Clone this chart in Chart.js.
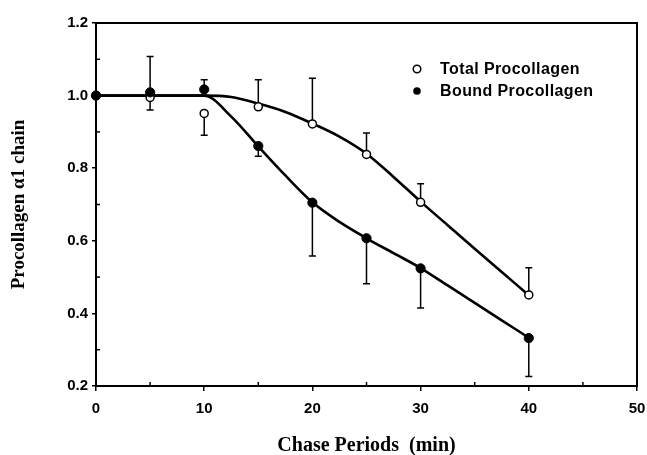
<!DOCTYPE html>
<html>
<head>
<meta charset="utf-8">
<script src="https://cdn.jsdelivr.net/npm/chart.js@4.4.0/dist/chart.umd.min.js"></script>
<style>
html,body{margin:0;padding:0;background:#fff;}
#wrap{width:647px;height:455px;position:relative;}
</style>
</head>
<body>
<div id="wrap"><canvas id="c" width="647" height="455"></canvas></div>
<script>
// ---- data ----
const xTicks = [0, 10, 20, 30, 40, 50];
const yTicks = [0.2, 0.4, 0.6, 0.8, 1.0, 1.2];

const totalX = [0, 5, 10, 15, 20, 25, 30, 40];
const totalY = [1.0, 0.995, 0.951, 0.969, 0.922, 0.838, 0.706, 0.451];
const totalErrHi = [null, 1.108, null, 1.044, 1.048, 0.897, 0.757, 0.526];
const totalErrLo = [null, 0.960, 0.891, null, null, null, null, null];

const boundX = [0, 5, 10, 15, 20, 25, 30, 40];
const boundY = [1.0, 1.009, 1.017, 0.861, 0.705, 0.607, 0.524, 0.332];
const boundErrHi = [null, null, 1.044, null, null, null, null, null];
const boundErrLo = [null, null, null, 0.833, 0.558, 0.482, 0.415, 0.226];

// fitted curves every 2.5 min
const fitX = [0, 2.5, 5, 7.5, 10, 12.5, 15, 17.5, 20, 22.5, 25, 27.5, 30, 32.5, 35, 37.5, 40];
const totalFit = [1.0, 1.0, 1.0, 1.0, 1.0, 0.996, 0.978, 0.955, 0.923, 0.887, 0.84, 0.776, 0.708, 0.643, 0.578, 0.514, 0.45];
const boundFit = [1.0, 1.0, 1.0, 1.0, 1.0, 0.942, 0.86, 0.78, 0.706, 0.652, 0.607, 0.566, 0.525, 0.477, 0.429, 0.381, 0.333];

const seriesNames = ['Total Procollagen', 'Bound Procollagen'];

const pts = (xs, ys) => xs.map((x, i) => ({x: x, y: ys[i]}));

const errorBars = {
  id: 'errorBars',
  beforeDatasetsDraw(chart) {
    const {ctx, scales: {x, y}} = chart;
    const sets = [[totalX, totalY, totalErrHi, totalErrLo], [boundX, boundY, boundErrHi, boundErrLo]];
    ctx.save();
    ctx.strokeStyle = '#000';
    ctx.lineWidth = 1.5;
    const cap = 3.5;
    sets.forEach(([xs, ys, hi, lo]) => {
      xs.forEach((xv, i) => {
        const px = x.getPixelForValue(xv);
        const py = y.getPixelForValue(ys[i]);
        [hi[i], lo[i]].forEach(e => {
          if (e === null) return;
          const pe = y.getPixelForValue(e);
          ctx.beginPath();
          ctx.moveTo(px, py); ctx.lineTo(px, pe);
          ctx.moveTo(px - cap, pe); ctx.lineTo(px + cap, pe);
          ctx.stroke();
        });
      });
    });
    ctx.restore();
  }
};

const frame = {
  id: 'frame',
  afterDraw(chart) {
    const {ctx, chartArea: a, scales: {x, y}} = chart;
    ctx.save();
    ctx.strokeStyle = '#000';
    ctx.lineWidth = 2;
    ctx.strokeRect(a.left, a.top, a.right - a.left, a.bottom - a.top);
    // minor ticks inward
    ctx.lineWidth = 1.5;
    for (let v = 5; v < 50; v += 10) {
      const px = x.getPixelForValue(v);
      ctx.beginPath(); ctx.moveTo(px, a.bottom); ctx.lineTo(px, a.bottom - 4); ctx.stroke();
    }
    for (let v = 0.3; v < 1.2; v += 0.2) {
      const py = y.getPixelForValue(v);
      ctx.beginPath(); ctx.moveTo(a.left, py); ctx.lineTo(a.left + 4, py); ctx.stroke();
    }
    // legend
    const lx = 417, ly = [69, 91];
    ctx.font = 'bold 16px "Liberation Sans", Arial, sans-serif';
    try { ctx.letterSpacing = '0.4px'; } catch (e) {}
    ctx.textBaseline = 'middle';
    ctx.fillStyle = '#000';
    seriesNames.forEach((n, i) => {
      ctx.beginPath();
      ctx.arc(lx, ly[i], 3.8, 0, Math.PI * 2);
      if (i === 0) { ctx.fillStyle = '#fff'; ctx.fill(); ctx.lineWidth = 1.5; ctx.stroke(); }
      else { ctx.fillStyle = '#000'; ctx.fill(); }
      ctx.fillStyle = '#000';
      ctx.fillText(n, 440, ly[i] + 1);
    });
    ctx.restore();
  }
};

const tickFont = {family: '"Liberation Sans", Arial, sans-serif', size: 15, weight: 'bold'};

new Chart(document.getElementById('c'), {
  type: 'scatter',
  data: {
    datasets: [
      {label: 'fitTotal', order: 3, data: pts(fitX, totalFit), showLine: true, borderColor: '#000', borderWidth: 2.6, pointRadius: 0, cubicInterpolationMode: 'monotone', fill: false},
      {label: 'fitBound', order: 2, data: pts(fitX, boundFit), showLine: true, borderColor: '#000', borderWidth: 2.6, pointRadius: 0, cubicInterpolationMode: 'monotone', fill: false},
      {label: seriesNames[0], order: 1, data: pts(totalX, totalY), pointRadius: 4, pointBackgroundColor: '#fff', pointBorderColor: '#000', pointBorderWidth: 1.5, showLine: false, clip: false},
      {label: seriesNames[1], order: 0, data: pts(boundX, boundY), pointRadius: 4.6, pointBackgroundColor: '#000', pointBorderColor: '#000', pointBorderWidth: 1, showLine: false, clip: false}
    ]
  },
  options: {
    responsive: false,
    animation: false,
    layout: {padding: {top: 23, right: 10, left: 0, bottom: 0}},
    plugins: {legend: {display: false}, tooltip: {enabled: false}},
    scales: {
      x: {
        type: 'linear', min: 0, max: 50,
        afterBuildTicks: s => { s.ticks = xTicks.map(v => ({value: v})); },
        afterFit: s => { s.height = 69; s.paddingRight = 0; s.paddingLeft = 0; },
        border: {display: true, color: '#000', width: 2},
        grid: {drawOnChartArea: false, drawTicks: true, tickLength: 5, color: '#000', lineWidth: 1.5},
        ticks: {color: '#000', font: tickFont, padding: 9, maxRotation: 0},
        title: {display: true, text: 'Chase Periods  (min)', color: '#000', font: {family: '"Liberation Serif", "Times New Roman", serif', size: 20, weight: 'bold', lineHeight: 0.9}, padding: {top: 0, bottom: 0}}
      },
      y: {
        type: 'linear', min: 0.2, max: 1.2,
        afterBuildTicks: s => { s.ticks = yTicks.map(v => ({value: v})); },
        afterFit: s => { s.width = 96; },
        border: {display: true, color: '#000', width: 2},
        grid: {drawOnChartArea: false, drawTicks: true, tickLength: 4, color: '#000', lineWidth: 1.5},
        ticks: {color: '#000', font: tickFont, padding: 4, callback: v => v.toFixed(1)},
        title: {display: true, text: 'Procollagen α1 chain', color: '#000', font: {family: '"Liberation Serif", "Times New Roman", serif', size: 19, weight: 'bold'}, padding: {top: 8, bottom: 0}}
      }
    }
  },
  plugins: [errorBars, frame]
});
</script>
</body>
</html>
